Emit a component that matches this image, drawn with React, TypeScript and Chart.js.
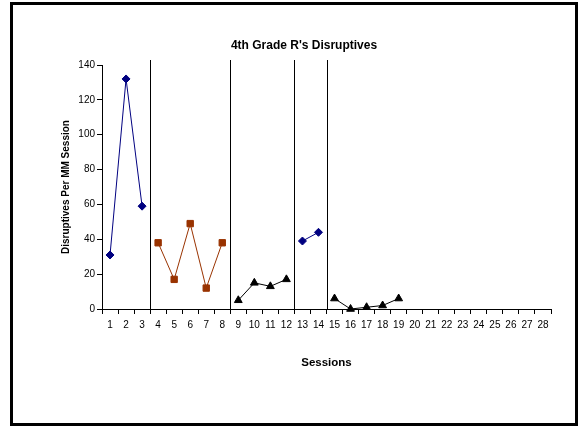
import React, { useEffect, useRef } from 'react';
import { Chart, registerables } from 'chart.js';

Chart.register(...registerables);

const chartTitle = "4th Grade R's Disruptives";
const xAxisTitle = 'Sessions';
const yAxisTitle = 'Disruptives Per MM Session';

const sessions = [
  '1', '2', '3', '4', '5', '6', '7', '8', '9', '10', '11', '12', '13', '14',
  '15', '16', '17', '18', '19', '20', '21', '22', '23', '24', '25', '26', '27', '28',
];

const yMin = 0;
const yMax = 140;
const yStep = 20;

// Blue diamonds: sessions 1-3 and 13-14
const blueValues = [
  31, 132, 59, null, null, null, null, null, null, null, null, null, 39, 44,
  null, null, null, null, null, null, null, null, null, null, null, null, null, null,
];
// Brown squares: sessions 4-8
const brownValues = [
  null, null, null, 38, 17, 49, 12, 38, null, null, null, null, null, null,
  null, null, null, null, null, null, null, null, null, null, null, null, null, null,
];
// Black triangles: sessions 9-12 and 15-19
const blackValues = [
  null, null, null, null, null, null, null, null, 5, 15, 13, 17, null, null,
  6, 0, 1, 2, 6, null, null, null, null, null, null, null, null, null,
];

// Phase-change lines drawn after these sessions
const phaseChangesAfter = [3, 8, 12, 14];

const FONT = 'Arial, "Liberation Sans", Helvetica, sans-serif';

const phaseLinesPlugin = {
  id: 'phaseLines',
  beforeDatasetsDraw(chart: any) {
    const ctx = chart.ctx;
    const xs = chart.scales.x;
    const { top, bottom } = chart.chartArea;
    ctx.save();
    ctx.strokeStyle = '#000';
    ctx.lineWidth = 1;
    for (const s of phaseChangesAfter) {
      const px = (xs.getPixelForValue(s - 1) + xs.getPixelForValue(s)) / 2;
      const ax = Math.round(px) + 0.5;
      ctx.beginPath();
      ctx.moveTo(ax, top - 5);
      ctx.lineTo(ax, bottom);
      ctx.stroke();
    }
    ctx.restore();
  },
};

const titlePlugin = {
  id: 'customTitle',
  afterDraw(chart: any) {
    const ctx = chart.ctx;
    ctx.save();
    ctx.font = `bold 12px ${FONT}`;
    ctx.fillStyle = '#000';
    ctx.textAlign = 'center';
    ctx.textBaseline = 'middle';
    ctx.fillText(chartTitle, chart.width / 2 + 10, 41);
    ctx.restore();
  },
};

export default function App() {
  const canvasRef = useRef<HTMLCanvasElement | null>(null);

  useEffect(() => {
    if (!canvasRef.current) return;
    const chart = new Chart(canvasRef.current, {
      type: 'line',
      data: {
        labels: sessions,
        datasets: [
          {
            data: blueValues,
            borderColor: '#000080',
            backgroundColor: '#000080',
            borderWidth: 1,
            pointStyle: 'rectRot',
            pointRadius: 4,
            pointBorderWidth: 1,
            spanGaps: false,
            clip: false as any,
          },
          {
            data: brownValues,
            borderColor: '#993300',
            backgroundColor: '#993300',
            borderWidth: 1,
            pointStyle: 'rect',
            pointRadius: 4.5,
            pointBorderWidth: 1,
            spanGaps: false,
            clip: false as any,
          },
          {
            data: blackValues,
            borderColor: '#000',
            backgroundColor: '#000',
            borderWidth: 1,
            pointStyle: 'triangle',
            pointRadius: 4.5,
            pointBorderWidth: 1,
            spanGaps: false,
            clip: false as any,
          },
        ],
      },
      options: {
        animation: false,
        responsive: false,
        devicePixelRatio: 1,
        layout: { padding: { top: 60, right: 24, left: 0, bottom: 0 } },
        plugins: {
          legend: { display: false },
          title: { display: false },
          tooltip: { enabled: false },
        },
        elements: { line: { tension: 0 } },
        scales: {
          x: {
            type: 'category',
            offset: true,
            grid: {
              offset: true,
              drawOnChartArea: false,
              drawTicks: true,
              tickLength: 5,
              color: '#000',
            },
            border: { display: true, color: '#000', width: 1 },
            ticks: {
              autoSkip: false,
              maxRotation: 0,
              minRotation: 0,
              padding: 5,
              color: '#000',
              font: { family: FONT, size: 10 },
            },
            title: {
              display: true,
              text: xAxisTitle,
              color: '#000',
              font: { family: FONT, size: 11.5, weight: 'bold' },
              padding: { top: 0, bottom: 53 },
            },
            afterFit: (scale: any) => {
              scale.height = 114;
            },
          },
          y: {
            min: yMin,
            max: yMax,
            grid: {
              drawOnChartArea: false,
              drawTicks: true,
              tickLength: 5,
              color: '#000',
            },
            border: { display: true, color: '#000', width: 1 },
            ticks: {
              stepSize: yStep,
              padding: 2,
              color: '#000',
              font: { family: FONT, size: 10 },
            },
            title: {
              display: true,
              text: yAxisTitle,
              color: '#000',
              font: { family: FONT, size: 10, weight: 'bold' },
              padding: { top: 47, bottom: 0 },
            },
            afterFit: (scale: any) => {
              scale.width = 89;
            },
          },
        },
      },
      plugins: [phaseLinesPlugin, titlePlugin],
    });
    return () => chart.destroy();
  }, []);

  return (
    <div
      style={{
        position: 'absolute',
        left: 10,
        top: 2,
        width: 568,
        height: 424,
        border: '3px solid #000',
        boxSizing: 'border-box',
        background: '#fff',
      }}
    >
      <canvas ref={canvasRef} width={562} height={418} style={{ display: 'block', width: 562, height: 418 }} />
    </div>
  );
}
